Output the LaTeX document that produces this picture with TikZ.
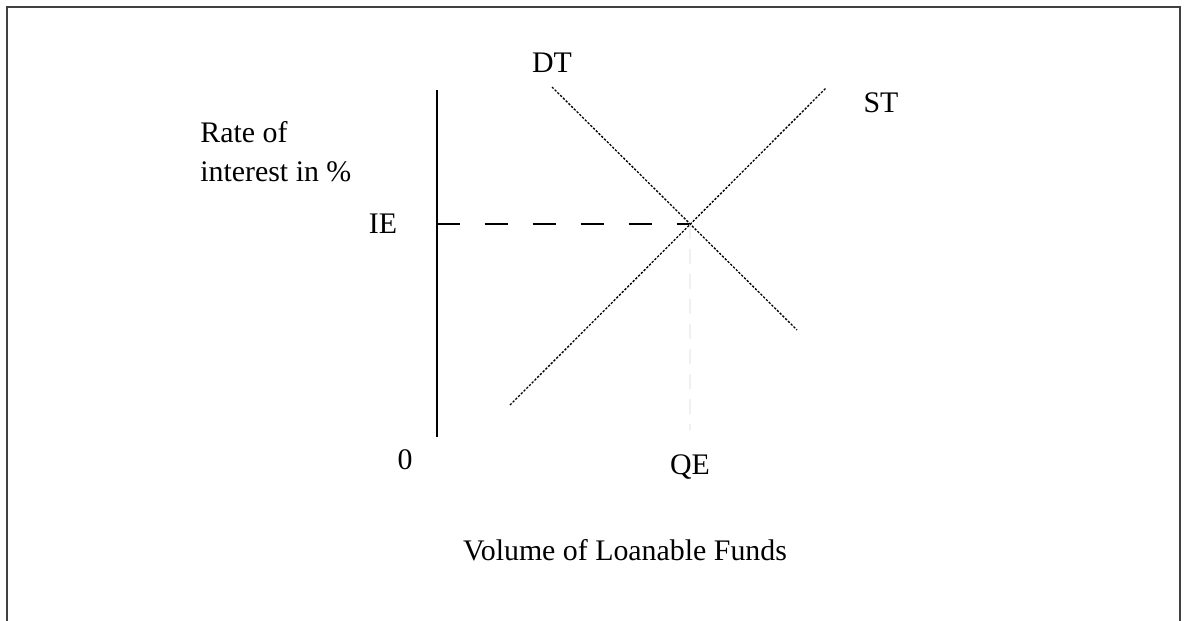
\documentclass[tikz,border=0pt]{standalone}
\usepackage{fontspec}
\setmainfont{Liberation Serif}
\begin{document}
\begin{tikzpicture}[x=0.02cm, y=-0.02cm,
	lbl/.style = {font=\fontsize{17}{22}\selectfont, inner sep=0pt},
	curve/.style = {line width=0.75pt, dash pattern=on 1.3pt off 0.9pt}]
	\useasboundingbox (0,0) rectangle (1188,620);
	\draw[line width=1pt, black!75] (7,630) -- (7,7) -- (1180,7) -- (1180,630);
	\coordinate (O) at (437,437);
	\coordinate (Top) at (437,90);
	\coordinate (E) at (690,224);
	\coordinate (DTa) at (552,87);
	\coordinate (DTb) at (797,330);
	\coordinate (STa) at (510,405);
	\coordinate (STb) at (826,88);
	\coordinate (Q) at (690,430);
	\draw[line width=1pt] (Top) -- (O);
	\draw[line width=0.9pt, dash pattern=on 0.46cm off 0.5cm] (O |- E) -- (E);
	\draw[black!6, line width=1pt, dash pattern=on 0.3cm off 0.2cm] (E) -- (Q);
	\draw[curve] (DTa) -- (DTb);
	\draw[curve] (STa) -- (STb);
	\node[lbl] (zero) at (405,460) {0};
	\node[lbl] (IE) at (383,224) {IE};
	\node[lbl] (DT) at (552,63) {DT};
	\node[lbl] (ST) at (881,103) {ST};
	\node[lbl] (QE) at (690,467) {QE};
	\node[lbl, right, align=left] (rate) at (200,152) {Rate of\\interest in \%};
	\node[lbl] (volume) at (625,550) {Volume of Loanable Funds};
\end{tikzpicture}
\end{document}
